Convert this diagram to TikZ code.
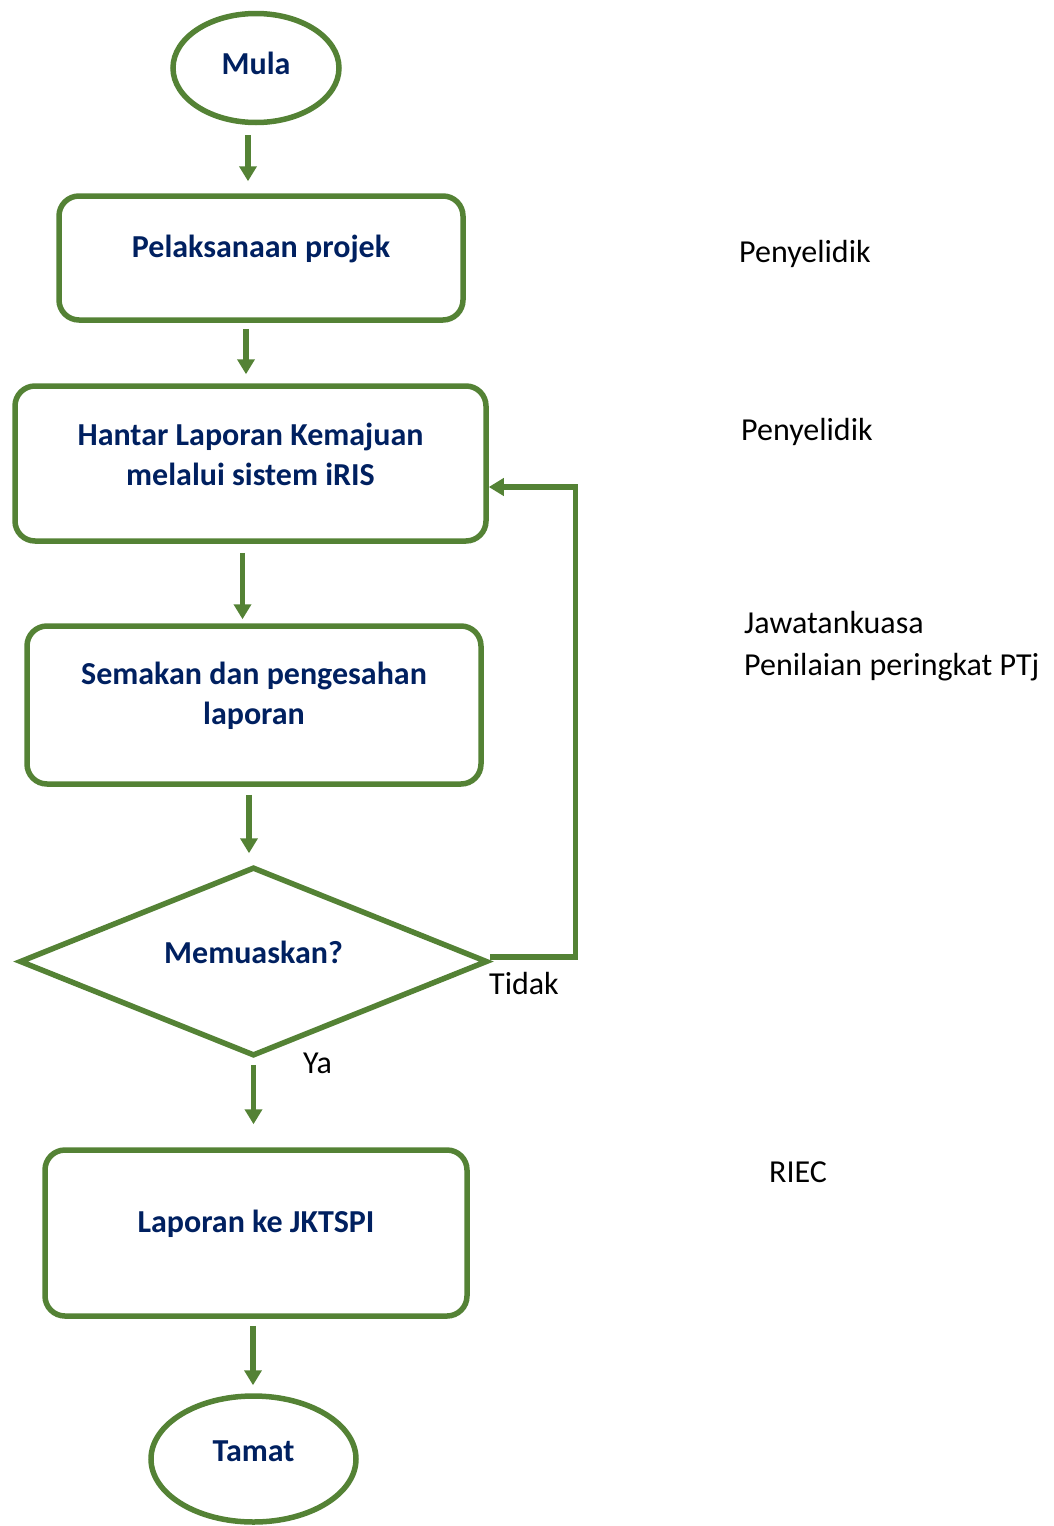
\documentclass[tikz,border=0pt]{standalone}
\usepackage{fontspec}
\setmainfont{Carlito}
\usepackage{xcolor}
\usepackage{tikz}
\usetikzlibrary{shapes.geometric, arrows.meta, calc}

\definecolor{flowgreen}{HTML}{548235}
\definecolor{flownavy}{HTML}{002060}

\begin{document}
\begin{tikzpicture}[
    x=1pt, y=1pt,
    terminal/.style={ellipse, draw=flowgreen, line width=5.5pt, inner sep=0pt},
    process/.style={rectangle, draw=flowgreen, line width=5.5pt, rounded corners=20pt, inner sep=0pt},
    decision/.style={diamond, draw=flowgreen, line width=5.5pt, inner sep=0pt},
    boxtext/.style={font=\fontsize{32}{40}\selectfont\bfseries, text=flownavy, align=center, yshift=9pt},
    note/.style={font=\fontsize{32}{42}\selectfont, text=black, anchor=base west, inner sep=0pt, align=left},
    arrow/.style={-{Triangle[width=17pt, length=15pt]}, draw=flowgreen, line width=5.5pt}
]
    \useasboundingbox (0,0) rectangle (1054,-1526);

    % Start
    \node[terminal, minimum width=166pt, minimum height=109pt,
          label={[boxtext, yshift=-4pt]center:Mula}] (mula) at (256,-68) {};

    % Steps
    \node[process, minimum width=404pt, minimum height=124pt,
          label={[boxtext]center:Pelaksanaan projek}] (impl) at (261,-258) {};
    \node[process, minimum width=471pt, minimum height=155pt,
          label={[boxtext]center:Hantar Laporan Kemajuan\\melalui sistem iRIS}] (submit) at (250.5,-463.5) {};
    \node[process, minimum width=454pt, minimum height=158pt,
          label={[boxtext]center:Semakan dan pengesahan\\laporan}] (review) at (254,-705) {};

    % Decision
    \node[decision, minimum width=468pt, minimum height=189pt,
          label={[boxtext]center:Memuaskan?}] (decide) at (253.5,-961.5) {};

    \node[process, minimum width=422pt, minimum height=166pt,
          label={[boxtext]center:Laporan ke JKTSPI}] (report) at (256,-1233) {};

    % End
    \node[terminal, minimum width=205pt, minimum height=126pt,
          label={[boxtext, yshift=-1pt]center:Tamat}] (tamat) at (253.5,-1459) {};

    % Flow arrows
    \draw[arrow, shorten <=10pt, shorten >=12pt] ([xshift=-8pt]mula.south) -- ([xshift=-8pt]mula.south |- impl.north);
    \draw[arrow, shorten <=6pt, shorten >=9pt] ([xshift=-15pt]impl.south) -- ([xshift=-15pt]impl.south |- submit.north);
    \draw[arrow, shorten <=9pt, shorten >=4pt] ([xshift=-8pt]submit.south) -- ([xshift=-8pt]submit.south |- review.north);
    \draw[arrow, shorten <=8pt, shorten >=11pt] ([xshift=-5pt]review.south) -- ([xshift=-5pt]review.south |- decide.north);
    \draw[arrow, shorten <=6pt, shorten >=23pt] (decide.south) -- (decide.south |- report.north);
    \draw[arrow, shorten <=7pt, shorten >=8pt] ([xshift=-3pt]report.south) -- ([xshift=-3pt]report.south |- tamat.north);

    % Loop back
    \draw[arrow] ([yshift=4.5pt]decide.east) -- ++(85,0) |- ([yshift=-23.5pt]submit.east);

    % Branch labels
    \node[note] (tidak) at (489,-994) {Tidak};
    \node[note] (ya) at (303,-1073) {Ya};

    % Roles
    \node[note] (role1) at (739,-262) {Penyelidik};
    \node[note] (role2) at (741,-440) {Penyelidik};
    \node[note] (role3) at (744,-675) {Jawatankuasa\\Penilaian peringkat PTj};
    \node[note] (role4) at (769,-1182) {RIEC};
\end{tikzpicture}
\end{document}
